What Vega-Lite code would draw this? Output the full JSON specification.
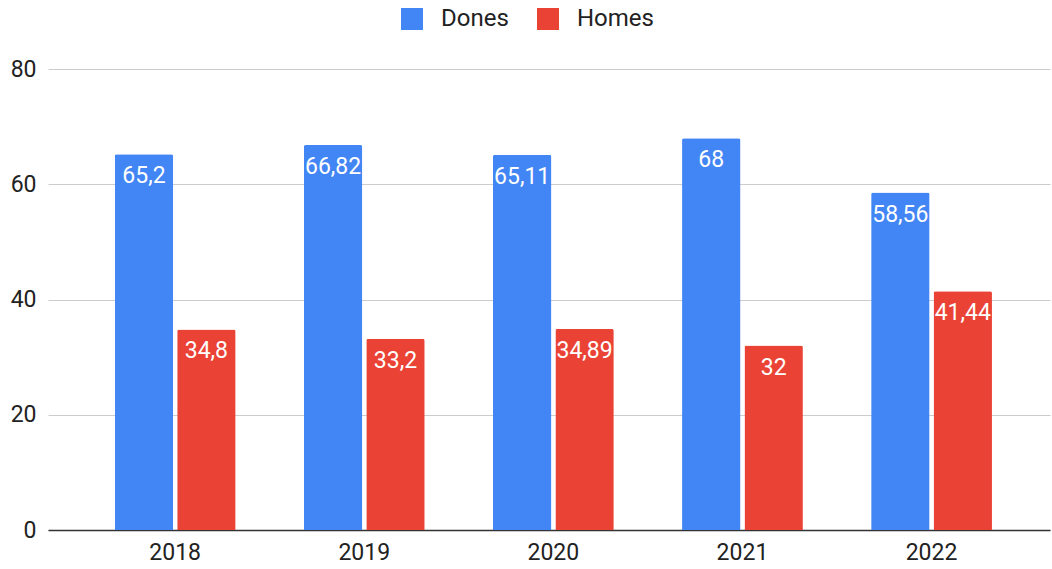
{
  "$schema": "https://vega.github.io/schema/vega-lite/v6.json",
  "width": 1002,
  "height": 461,
  "autosize": "none",
  "padding": {"left": 48, "top": 69, "right": 2, "bottom": 39},
  "background": "white",
  "config": {
    "font": "Roboto",
    "view": {"stroke": null},
    "axis": {"labelFont": "Roboto", "labelColor": "#222222", "labelFontSize": 23}
  },
  "data": {
    "values": [
      {"year": "2018", "series": "Dones", "value": 65.2, "label": "65,2"},
      {"year": "2018", "series": "Homes", "value": 34.8, "label": "34,8"},
      {"year": "2019", "series": "Dones", "value": 66.82, "label": "66,82"},
      {"year": "2019", "series": "Homes", "value": 33.2, "label": "33,2"},
      {"year": "2020", "series": "Dones", "value": 65.11, "label": "65,11"},
      {"year": "2020", "series": "Homes", "value": 34.89, "label": "34,89"},
      {"year": "2021", "series": "Dones", "value": 68, "label": "68"},
      {"year": "2021", "series": "Homes", "value": 32, "label": "32"},
      {"year": "2022", "series": "Dones", "value": 58.56, "label": "58,56"},
      {"year": "2022", "series": "Homes", "value": 41.44, "label": "41,44"}
    ]
  },
  "encoding": {
    "x": {
      "field": "year", "type": "nominal",
      "scale": {"paddingInner": 0.361, "paddingOuter": 0.33, "align": 0.535},
      "axis": {"title": null, "labelAngle": 0, "ticks": false, "labelPadding": 11, "domain": true, "domainColor": "#333333", "domainWidth": 1.5, "grid": false}
    },
    "xOffset": {
      "field": "series", "type": "nominal",
      "scale": {"domain": ["Dones", "Homes"], "paddingInner": 0.064, "paddingOuter": 0}
    },
    "y": {
      "field": "value", "type": "quantitative",
      "scale": {"domain": [0, 80], "nice": false},
      "axis": {"title": null, "values": [0, 20, 40, 60, 80], "ticks": false, "domain": false, "labelPadding": 12, "gridColor": "#cccccc", "gridWidth": 1}
    }
  },
  "layer": [
    {
      "mark": {"type": "bar", "cornerRadiusTopLeft": 2, "cornerRadiusTopRight": 2},
      "encoding": {
        "color": {
          "field": "series", "type": "nominal",
          "scale": {"domain": ["Dones", "Homes"], "range": ["#4285F4", "#EA4335"]},
          "legend": {
            "title": null, "orient": "none", "direction": "horizontal",
            "legendX": 352, "legendY": -62,
            "symbolType": "square", "symbolSize": 484, "symbolStrokeWidth": 0,
            "labelFontSize": 24, "labelFont": "Roboto", "labelColor": "#222222",
            "labelOffset": 17, "columnPadding": 27
          }
        }
      }
    },
    {
      "mark": {"type": "text", "baseline": "top", "dy": 11, "color": "white", "fontSize": 23, "font": "Roboto"},
      "encoding": {
        "text": {"field": "label"}
      }
    }
  ]
}
